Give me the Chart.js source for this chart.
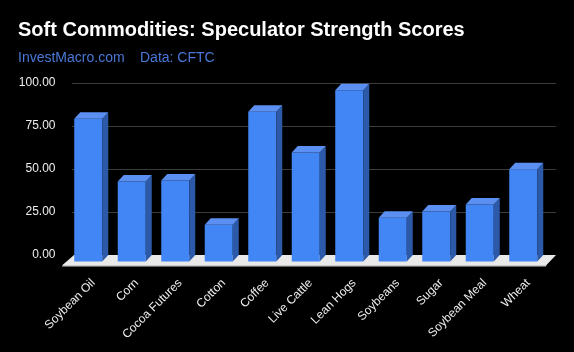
<!DOCTYPE html>
<html>
<head>
<meta charset="utf-8">
<script src="https://cdn.jsdelivr.net/npm/chart.js@4.4.1/dist/chart.umd.min.js"></script>
<style>
  html, body { margin: 0; padding: 0; background: #000; }
  #wrap { width: 574px; height: 352px; }
</style>
</head>
<body>
<div id="wrap"><canvas id="c" width="574" height="352"></canvas></div>
<script>
const titleText = "Soft Commodities: Speculator Strength Scores";
const sourceText = "InvestMacro.com";
const dataText = "Data: CFTC";
const categories = ["Soybean Oil", "Corn", "Cocoa Futures", "Cotton", "Coffee", "Live Cattle", "Lean Hogs", "Soybeans", "Sugar", "Soybean Meal", "Wheat"];
const scores = [83.0, 46.5, 47.1, 21.4, 87.1, 63.4, 99.5, 25.5, 29.0, 33.1, 53.7];
const yTicks = [0, 25, 50, 75, 100];

const DX = 6, DY = 6.5;

const backgroundPlugin = {
  id: 'bg',
  beforeDraw(chart) {
    const ctx = chart.ctx;
    ctx.save();
    ctx.fillStyle = '#000';
    ctx.fillRect(0, 0, chart.width, chart.height);
    ctx.textBaseline = 'alphabetic';
    ctx.textAlign = 'left';
    ctx.fillStyle = '#ffffff';
    ctx.font = 'bold 20px "Liberation Sans", Arial, sans-serif';
    ctx.fillText(titleText, 18, 36);
    ctx.fillStyle = '#4a78d8';
    ctx.font = '14px "Liberation Sans", Arial, sans-serif';
    ctx.fillText(sourceText, 18, 62);
    ctx.fillText(dataText, 140, 62);
    ctx.restore();
  }
};

const threeDPlugin = {
  id: 'threeD',
  beforeDatasetsDraw(chart) {
    const ctx = chart.ctx;
    const a = chart.chartArea;
    const y = chart.scales.y;
    ctx.save();
    ctx.strokeStyle = '#3c3c3c';
    ctx.lineWidth = 1;
    yTicks.forEach(v => {
      if (v === 0) return;
      const py = Math.round(y.getPixelForValue(v)) + 0.5;
      ctx.beginPath();
      ctx.moveTo(a.left - 0.5, py);
      ctx.lineTo(a.right + 5, py);
      ctx.stroke();
    });
    const by = y.getPixelForValue(0);
    ctx.fillStyle = '#e9e9e9';
    ctx.beginPath();
    ctx.moveTo(a.left + 1.5, by);
    ctx.lineTo(a.right + 5, by);
    ctx.lineTo(a.right - 4.5, by + 10);
    ctx.lineTo(a.left - 10, by + 10);
    ctx.closePath();
    ctx.fill();
    ctx.fillStyle = '#c9c9c9';
    ctx.beginPath();
    ctx.moveTo(a.left - 10, by + 10);
    ctx.lineTo(a.right - 4.5, by + 10);
    ctx.lineTo(a.right - 5, by + 11.5);
    ctx.lineTo(a.left - 10.5, by + 11.5);
    ctx.closePath();
    ctx.fill();
    ctx.restore();
    ctx.save();
    ctx.translate(-DX, DY);
  },
  afterDatasetsDraw(chart) {
    const ctx = chart.ctx;
    const meta = chart.getDatasetMeta(0);
    meta.data.forEach(bar => {
      const p = bar.getProps(['x', 'y', 'base', 'width'], true);
      const xl = p.x - p.width / 2, xr = p.x + p.width / 2;
      const top = p.y, base = p.base;
      ctx.fillStyle = '#2d5aa8';
      ctx.beginPath();
      ctx.moveTo(xr, top);
      ctx.lineTo(xr + DX, top - DY);
      ctx.lineTo(xr + DX, base - DY);
      ctx.lineTo(xr, base);
      ctx.closePath();
      ctx.fill();
      ctx.fillStyle = '#5b90f2';
      ctx.beginPath();
      ctx.moveTo(xl, top);
      ctx.lineTo(xl + DX, top - DY);
      ctx.lineTo(xr + DX, top - DY);
      ctx.lineTo(xr, top);
      ctx.closePath();
      ctx.fill();
    });
    ctx.restore();
  }
};

new Chart(document.getElementById('c'), {
  type: 'bar',
  data: {
    labels: categories,
    datasets: [{
      data: scores,
      backgroundColor: '#4285f4',
      borderWidth: 0,
      barPercentage: 0.644,
      categoryPercentage: 1.0,
      clip: false
    }]
  },
  options: {
    responsive: false,
    animation: false,
    devicePixelRatio: 1,
    layout: { padding: { top: 83, right: 23, left: 0, bottom: 0 } },
    plugins: {
      legend: { display: false },
      title: { display: false },
      tooltip: { enabled: false }
    },
    scales: {
      y: {
        min: 0,
        max: 100,
        afterFit(scale) { scale.width = 72.5; },
        afterBuildTicks(scale) { scale.ticks = yTicks.map(v => ({ value: v })); },
        grid: { display: false, drawTicks: false },
        border: { display: false },
        ticks: {
          color: '#eeeeee',
          padding: 17,
          font: { family: '"Liberation Sans", Arial, sans-serif', size: 12 },
          callback: v => Number(v).toFixed(2)
        }
      },
      x: {
        afterFit(scale) { scale.height = 97; },
        grid: { display: false, drawTicks: false },
        border: { display: false },
        ticks: {
          color: '#eeeeee',
          minRotation: 45,
          maxRotation: 45,
          autoSkip: false,
          padding: 21,
          labelOffset: -1,
          font: { family: '"Liberation Sans", Arial, sans-serif', size: 12 }
        }
      }
    }
  },
  plugins: [backgroundPlugin, threeDPlugin]
});
</script>
</body>
</html>
